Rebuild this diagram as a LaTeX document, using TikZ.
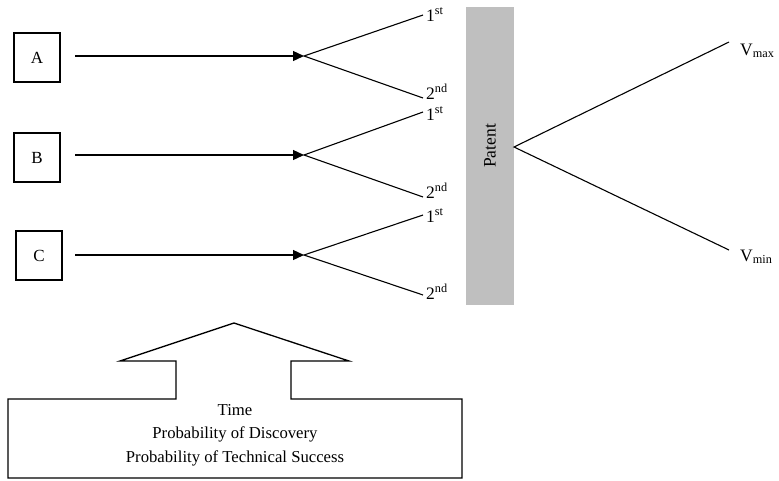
\documentclass[tikz,border=0pt]{standalone}
\usepackage{fontspec}
\setmainfont{Liberation Serif}
\usetikzlibrary{arrows.meta}
\begin{document}
\begin{tikzpicture}[x=1pt,y=-1pt,
  lw/.style={line width=1.3pt},
  letterbox/.style={draw,lw,minimum width=46pt,minimum height=49pt,font=\fontsize{17}{19}\selectfont,inner sep=0pt},
  arr/.style={lw,-{Triangle[length=11pt,width=10pt]}},
  branch/.style={line width=1.1pt},
  lab/.style={font=\fontsize{17.5}{19}\selectfont,inner sep=0pt,anchor=base west}]
\useasboundingbox (0,0) rectangle (779,480);
% letter boxes
\node[letterbox] (A) at (37,57.5) {A};
\node[letterbox] (B) at (37,157.5) {B};
\node[letterbox] (C) at (39,255.5) {C};
\coordinate (sA) at (75,56);
\coordinate (sB) at (75,155);
\coordinate (sC) at (75,255);
\coordinate (fA) at (304,56);
\coordinate (fB) at (304,155);
\coordinate (fC) at (304,255);
\draw[arr] (sA) -- (fA);
\draw[arr] (sB) -- (fB);
\draw[arr] (sC) -- (fC);
% branch ends
\coordinate (a1) at (423,15);
\coordinate (a2) at (423,98);
\coordinate (b1) at (423,112);
\coordinate (b2) at (423,197);
\coordinate (c1) at (423,215);
\coordinate (c2) at (423,295);
\draw[branch] (a1) -- (fA) -- (a2);
\draw[branch] (b1) -- (fB) -- (b2);
\draw[branch] (c1) -- (fC) -- (c2);
\node[lab] (la1) at (426,21) {1\textsuperscript{st}};
\node[lab] (la2) at (426,99) {2\textsuperscript{nd}};
\node[lab] (lb1) at (426,120) {1\textsuperscript{st}};
\node[lab] (lb2) at (426,198) {2\textsuperscript{nd}};
\node[lab] (lc1) at (426,222) {1\textsuperscript{st}};
\node[lab] (lc2) at (426,299) {2\textsuperscript{nd}};
% patent bar
\fill[black!25] (466,7) rectangle (514,305);
\node[font=\fontsize{17.5}{19}\selectfont,rotate=90] (patent) at (490,146) {Patent};
\coordinate (pf) at (514,147);
\coordinate (vmaxend) at (729,42);
\coordinate (vminend) at (729,250);
\draw[branch] (vmaxend) -- (pf) -- (vminend);
\node[lab] (vmax) at (740,55) {V\textsubscript{max}};
\node[lab] (vmin) at (740,261) {V\textsubscript{min}};
% block arrow
\draw[lw] (8,478) -- (8,399) -- (176,399) -- (176,361) -- (120,361) -- (234,323)
  -- (349,361) -- (291,361) -- (291,399) -- (462,399) -- (462,478) -- cycle;
\node[font=\fontsize{16.7}{23.5}\selectfont,align=center] (factors) at (235,435)
  {Time\\Probability of Discovery\\Probability of Technical Success};
\end{tikzpicture}
\end{document}
